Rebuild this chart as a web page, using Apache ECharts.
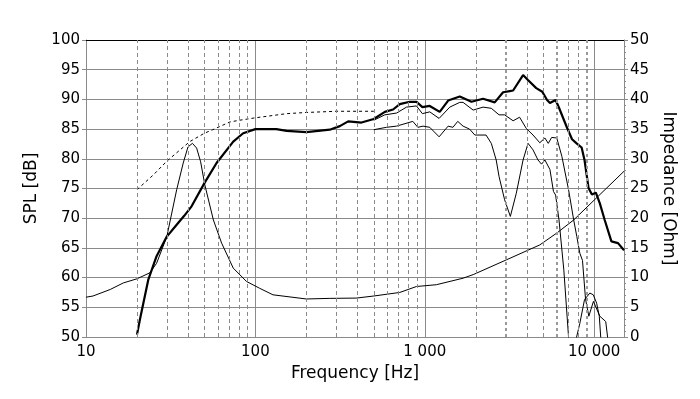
<!DOCTYPE html>
<html style="height: 100%">
<head>
  <meta charset="utf-8">
  <title>SPL / Impedance</title>
</head>
<body style="height: 100%; margin: 0; background: #fff">
<div id="container" style="width: 700px; height: 399px"></div>
<script type="text/javascript" src="https://cdn.jsdelivr.net/npm/echarts@6/dist/echarts.min.js"></script>
<script type="text/javascript">
  // on-axis response (thick)
  const mainFreq = [20, 20.8, 23.3, 26.1, 30, 34.3, 38, 42, 50, 59, 74, 84.7, 100, 133, 153, 200, 275, 315, 353, 423, 500,
    581, 650, 712, 815, 893, 968, 1070, 1225, 1374, 1609, 1886, 2208, 2588, 2899, 3175, 3323, 3804, 4050, 4550,
    4940, 5270, 5480, 5920, 6200, 6877, 7400, 7876, 8433, 8770, 9260, 9700, 10230, 10800, 11540, 12640, 13830, 15000];
  const mainSpl = [50.4, 52.9, 59.6, 63.6, 66.9, 68.9, 70.4, 72.0, 75.9, 79.3, 82.9, 84.3, 85.0, 85.0, 84.7, 84.5, 84.9, 85.5, 86.3, 86.1, 86.7,
    87.9, 88.3, 89.2, 89.6, 89.6, 88.7, 88.9, 87.9, 89.8, 90.5, 89.6, 90.1, 89.5, 91.2, 91.4, 91.5, 94.1, 93.3, 91.9,
    91.3, 89.9, 89.4, 89.9, 88.6, 85.4, 83.3, 82.6, 81.9, 79.8, 75.1, 74.0, 74.3, 72.5, 69.7, 66.1, 65.8, 64.6];

  // off-axis 30 deg (thin, upper)
  const off30Freq = [500, 581, 681, 780, 893, 968, 1070, 1215, 1405, 1609, 1683, 1930, 2208, 2470, 2745, 2960, 3323,
    3628, 3975, 4356, 4775, 5118, 5357, 5614, 6015, 6447, 7060, 7570, 7900, 8230, 8530, 8890, 9300, 9900, 10800,
    11700, 12000, 12300];
  const off30Spl = [86.5, 87.4, 87.7, 88.7, 88.9, 87.6, 87.9, 86.8, 88.7, 89.5, 89.5, 88.2, 88.7, 88.5, 87.4, 87.4, 86.4,
    87.0, 85.1, 84.0, 82.7, 83.5, 82.6, 83.6, 83.5, 80.4, 74.8, 69.7, 66.9, 64.1, 62.9, 56.4, 53.5, 56.0, 53.5,
    52.6, 50.0, 44];

  // off-axis 60 deg (thin, lower)
  const off60Freq = [500, 594, 681, 850, 910, 977, 1070, 1215, 1374, 1466, 1565, 1683, 1838, 1975, 2300, 2470, 2640,
    2745, 2960, 3200, 3470, 3804, 4070, 4356, 4660, 4890, 5118, 5480, 5750, 5920, 6200, 6620, 7060, 7400, 7700,
    7876, 8230, 8770, 9430, 9880, 10340, 10720, 10930, 11200];
  const off60Spl = [84.9, 85.3, 85.5, 86.3, 85.3, 85.5, 85.3, 83.7, 85.5, 85.3, 86.3, 85.5, 85.0, 84.0, 84.0, 82.6, 79.8,
    77.0, 73.1, 70.3, 74.2, 79.8, 82.6, 81.5, 79.8, 79.1, 79.8, 78.2, 74.5, 73.9, 69.7, 61.3, 50.0, 44, 44,
    50.0, 52.3, 56.3, 57.4, 57.1, 55.7, 53.5, 50.0, 44];

  // low-frequency (dashed)
  const lowFreq = [20, 25, 30, 41, 50, 56, 70.7, 81, 100, 153, 200, 300, 500];
  const lowSpl = [74.8, 77.3, 79.6, 82.9, 84.3, 84.9, 86.2, 86.5, 86.9, 87.6, 87.8, 88.0, 88.0];

  // impedance (right axis)
  const impFreq = [10, 11, 13.9, 16.6, 20, 23.8, 26.1, 30, 34.3, 37.5, 40, 42.5, 45, 47.5, 50.3, 56.5, 63.2, 74,
    88.6, 106, 127, 200, 275, 394, 500, 712, 893, 1170, 1683, 1930, 3040, 4775, 6015, 7570, 10300, 15000];
  const impOhm = [6.7, 6.9, 8.0, 9.1, 9.8, 10.8, 12.4, 16.9, 24.8, 29.3, 32.0, 32.6, 31.8, 29.5, 25.6, 19.7, 15.8, 11.6,
    9.35, 8.2, 7.1, 6.4, 6.5, 6.55, 6.9, 7.5, 8.5, 8.8, 9.9, 10.5, 13.0, 15.5, 17.5, 19.7, 23.4, 27.9];

  // vertical grid
  const minorFreqs = [20, 30, 40, 50, 60, 70, 80, 90, 200, 300, 400, 500, 600, 700, 800, 900, 2000, 4000, 5000, 7000, 8000];
  const boldFreqs = [3000, 6000, 9000];

  const FONT = 'DejaVu Sans';
  const GRID = '#8a8a8a';

  const pairs = (xs, ys) => xs.map((x, i) => [x, ys[i]]);
  const thousands = v => String(v).replace(/\B(?=(\d{3})+(?!\d))/g, ' ');

  let chart = echarts.init(document.getElementById('container'));

  let option = {
    animation: false,
    backgroundColor: '#fff',
    grid: { left: 86, right: 76, top: 40, bottom: 62 },
    xAxis: [
      {
        type: 'log', min: 10, max: 15000, logBase: 10,
        name: 'Frequency [Hz]', nameLocation: 'middle', nameGap: 27,
        nameTextStyle: { fontFamily: FONT, fontSize: 17, color: '#000' },
        axisLine: { lineStyle: { color: GRID } },
        axisTick: { show: false },
        axisLabel: { fontFamily: FONT, fontSize: 15, color: '#000', margin: 8, showMaxLabel: false, formatter: thousands },
        splitLine: { show: true, lineStyle: { color: GRID, width: 1 } }
      },
      {
        type: 'log', min: 10, max: 15000, position: 'top',
        axisLine: { lineStyle: { color: '#000' } },
        axisTick: { show: false }, axisLabel: { show: false }, splitLine: { show: false }
      }
    ],
    yAxis: [
      {
        type: 'value', min: 50, max: 100, interval: 5,
        name: 'SPL [dB]', nameLocation: 'middle', nameGap: 44,
        nameTextStyle: { fontFamily: FONT, fontSize: 17, color: '#000' },
        axisLine: { show: true, lineStyle: { color: GRID } },
        axisTick: { show: true, length: 4, lineStyle: { color: GRID } },
        axisLabel: { fontFamily: FONT, fontSize: 15, color: '#000', margin: 6 },
        splitLine: { show: true, lineStyle: { color: GRID, width: 1 } }
      },
      {
        type: 'value', min: 0, max: 50, interval: 5, position: 'right',
        name: 'Impedance [Ohm]', nameLocation: 'middle', nameGap: 34, nameRotate: -90,
        nameTextStyle: { fontFamily: FONT, fontSize: 17, color: '#000' },
        axisLine: { show: true, lineStyle: { color: GRID } },
        axisTick: { show: true, length: 4, lineStyle: { color: GRID } },
        minorTick: { show: true, splitNumber: 5, length: 2, lineStyle: { color: GRID } },
        axisLabel: { fontFamily: FONT, fontSize: 15, color: '#000', margin: 6 },
        splitLine: { show: false }
      }
    ],
    series: [
      {
        type: 'line', data: [], silent: true, z: 1,
        markLine: {
          silent: true, symbol: ['none', 'none'], label: { show: false }, animation: false,
          lineStyle: { color: GRID, width: 1, type: [4, 3] },
          data: minorFreqs.map(f => ({ xAxis: f }))
        }
      },
      {
        type: 'line', data: [], silent: true, z: 1,
        markLine: {
          silent: true, symbol: ['none', 'none'], label: { show: false }, animation: false,
          lineStyle: { color: '#999', width: 2, type: [3, 3] },
          data: boldFreqs.map(f => ({ xAxis: f }))
        }
      },
      {
        name: 'impedance', type: 'line', yAxisIndex: 1, data: pairs(impFreq, impOhm), z: 3,
        symbol: 'none', lineStyle: { color: '#000', width: 1 }
      },
      {
        name: 'low', type: 'line', data: pairs(lowFreq, lowSpl), z: 3,
        symbol: 'none', lineStyle: { color: '#000', width: 1, type: [3, 3] }
      },
      {
        name: '60', type: 'line', data: pairs(off60Freq, off60Spl), z: 3, clip: true,
        symbol: 'none', lineStyle: { color: '#000', width: 1 }
      },
      {
        name: '30', type: 'line', data: pairs(off30Freq, off30Spl), z: 3, clip: true,
        symbol: 'none', lineStyle: { color: '#000', width: 1 }
      },
      {
        name: 'main', type: 'line', data: pairs(mainFreq, mainSpl), z: 4, clip: true,
        symbol: 'none', lineStyle: { color: '#000', width: 2.2 }
      }
    ]
  };

  chart.setOption(option);
</script>
</body>
</html>
